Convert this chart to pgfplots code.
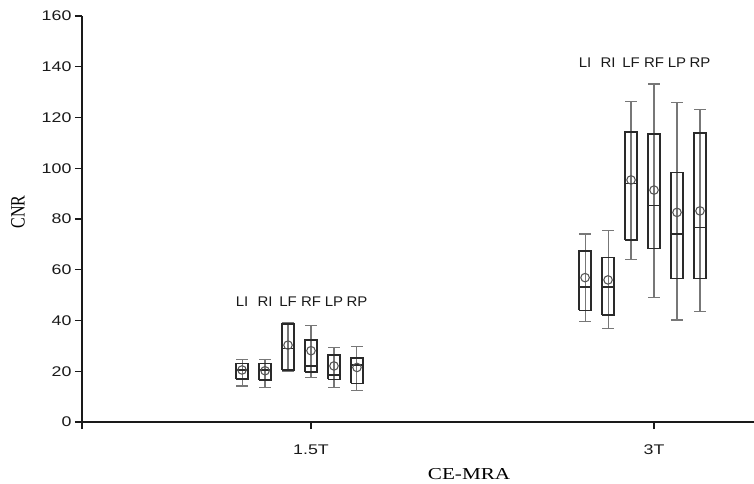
\documentclass[border=0pt]{standalone}
\usepackage{fontspec}
\setmainfont{Liberation Sans}[FakeStretch=1.27]
\newfontfamily\lblfont{Liberation Sans}[FakeStretch=1.07]
\newfontfamily\seriffont{Liberation Serif}
\usepackage{graphicx}
\usepackage{pgfplots}
\pgfplotsset{compat=1.18}
\definecolor{boxc}{HTML}{2A2A2A}
\definecolor{whc}{HTML}{777777}
\definecolor{mnc}{HTML}{555555}
\definecolor{axc}{HTML}{1A1A1A}
\pgfplotsset{
  wh/.style={draw=whc, line width=0.8pt, mark=none},
  bx/.style={draw=boxc, line width=1.2pt, mark=none},
}
\tikzset{lbl/.style={font=\lblfont\fontsize{10.5pt}{12pt}\selectfont, text=axc, inner sep=0pt}}
\begin{document}
\begin{tikzpicture}
\useasboundingbox (-61.5pt,-45.75pt) rectangle (504pt,316.5pt);
\begin{axis}[
  at={(0pt,0pt)}, anchor=south west,
  scale only axis, width=504pt, height=304.5pt,
  xmin=0.3324, xmax=2.2915, ymin=0, ymax=160,
  axis x line*=bottom, axis y line*=left,
  axis line style={draw=axc, line width=1.2pt},
  major tick style={draw=axc, line width=1.1pt},
  tick align=outside, major tick length=5.25pt,
  ytick={0,20,...,160},
  xtick={0.3324,1,2}, xticklabels={,1.5T,3T},
  tick label style={font=\fontsize{10.5pt}{12pt}\selectfont, text=axc},
  /pgf/number format/assume math mode=true,
  yticklabel style={anchor=east, inner sep=0pt, xshift=-2.5pt},
  xticklabel style={anchor=north, inner sep=0pt, yshift=-11.5pt},
  xlabel={\scalebox{1.27}[1]{CE-MRA}},
  xlabel style={at={(axis description cs:0.576,0)}, anchor=north, inner sep=0pt, yshift=-35pt, font=\seriffont\fontsize{12.5pt}{14pt}\selectfont},
  ylabel={\scalebox{1}[1.27]{CNR}},
  ylabel style={at={(axis description cs:-0.0952,0.517)}, anchor=center, inner sep=0pt, font=\seriffont\fontsize{12pt}{14pt}\selectfont},
  clip=false,
]
% ---- 1.5T ----
% LI
\addplot[wh] coordinates {(0.799,14.2) (0.799,24.8)};
\addplot[wh] coordinates {(0.782,14.2) (0.816,14.2)};
\addplot[wh] coordinates {(0.782,24.8) (0.816,24.8)};
\addplot[bx] coordinates {(0.781,16.9) (0.817,16.9) (0.817,23.1) (0.781,23.1) (0.781,16.9)};
\addplot[bx] coordinates {(0.781,20.5) (0.817,20.5)};
% RI
\addplot[wh] coordinates {(0.866,13.7) (0.866,24.8)};
\addplot[wh] coordinates {(0.849,13.7) (0.883,13.7)};
\addplot[wh] coordinates {(0.849,24.8) (0.883,24.8)};
\addplot[bx] coordinates {(0.848,16.5) (0.884,16.5) (0.884,23.1) (0.848,23.1) (0.848,16.5)};
\addplot[bx] coordinates {(0.848,20.5) (0.884,20.5)};
% LF
\addplot[wh] coordinates {(0.933,20.0) (0.933,39.3)};
\addplot[wh] coordinates {(0.916,20.0) (0.950,20.0)};
\addplot[wh] coordinates {(0.916,39.3) (0.950,39.3)};
\addplot[bx] coordinates {(0.915,20.5) (0.951,20.5) (0.951,38.6) (0.915,38.6) (0.915,20.5)};
\addplot[bx] coordinates {(0.915,29.0) (0.951,29.0)};
% RF
\addplot[wh] coordinates {(1.000,17.6) (1.000,38.2)};
\addplot[wh] coordinates {(0.983,17.6) (1.017,17.6)};
\addplot[wh] coordinates {(0.983,38.2) (1.017,38.2)};
\addplot[bx] coordinates {(0.982,19.6) (1.018,19.6) (1.018,32.3) (0.982,32.3) (0.982,19.6)};
\addplot[bx] coordinates {(0.982,22.1) (1.018,22.1)};
% LP
\addplot[wh] coordinates {(1.067,13.7) (1.067,29.4)};
\addplot[wh] coordinates {(1.050,13.7) (1.084,13.7)};
\addplot[wh] coordinates {(1.050,29.4) (1.084,29.4)};
\addplot[bx] coordinates {(1.049,16.8) (1.085,16.8) (1.085,26.4) (1.049,26.4) (1.049,16.8)};
\addplot[bx] coordinates {(1.049,18.5) (1.085,18.5)};
% RP
\addplot[wh] coordinates {(1.134,12.3) (1.134,29.7)};
\addplot[wh] coordinates {(1.117,12.3) (1.151,12.3)};
\addplot[wh] coordinates {(1.117,29.7) (1.151,29.7)};
\addplot[bx] coordinates {(1.116,15.2) (1.152,15.2) (1.152,25.3) (1.116,25.3) (1.116,15.2)};
\addplot[bx] coordinates {(1.116,22.5) (1.152,22.5)};
% ---- 3T ----
% LI
\addplot[wh] coordinates {(1.799,39.5) (1.799,74.1)};
\addplot[wh] coordinates {(1.782,39.5) (1.816,39.5)};
\addplot[wh] coordinates {(1.782,74.1) (1.816,74.1)};
\addplot[bx] coordinates {(1.781,44.0) (1.817,44.0) (1.817,67.5) (1.781,67.5) (1.781,44.0)};
\addplot[bx] coordinates {(1.781,53.1) (1.817,53.1)};
% RI
\addplot[wh] coordinates {(1.866,36.8) (1.866,75.3)};
\addplot[wh] coordinates {(1.849,36.8) (1.883,36.8)};
\addplot[wh] coordinates {(1.849,75.3) (1.883,75.3)};
\addplot[bx] coordinates {(1.848,42.2) (1.884,42.2) (1.884,64.8) (1.848,64.8) (1.848,42.2)};
\addplot[bx] coordinates {(1.848,53.3) (1.884,53.3)};
% LF
\addplot[wh] coordinates {(1.933,64.2) (1.933,126.2)};
\addplot[wh] coordinates {(1.916,64.2) (1.950,64.2)};
\addplot[wh] coordinates {(1.916,126.2) (1.950,126.2)};
\addplot[bx] coordinates {(1.915,71.7) (1.951,71.7) (1.951,114.3) (1.915,114.3) (1.915,71.7)};
\addplot[bx] coordinates {(1.915,94.0) (1.951,94.0)};
% RF
\addplot[wh] coordinates {(2.000,49.0) (2.000,133.2)};
\addplot[wh] coordinates {(1.983,49.0) (2.017,49.0)};
\addplot[wh] coordinates {(1.983,133.2) (2.017,133.2)};
\addplot[bx] coordinates {(1.982,68.3) (2.018,68.3) (2.018,113.4) (1.982,113.4) (1.982,68.3)};
\addplot[bx] coordinates {(1.982,85.3) (2.018,85.3)};
% LP
\addplot[wh] coordinates {(2.067,40.2) (2.067,125.8)};
\addplot[wh] coordinates {(2.050,40.2) (2.084,40.2)};
\addplot[wh] coordinates {(2.050,125.8) (2.084,125.8)};
\addplot[bx] coordinates {(2.049,56.5) (2.085,56.5) (2.085,98.4) (2.049,98.4) (2.049,56.5)};
\addplot[bx] coordinates {(2.049,74.0) (2.085,74.0)};
% RP
\addplot[wh] coordinates {(2.134,43.7) (2.134,123.0)};
\addplot[wh] coordinates {(2.117,43.7) (2.151,43.7)};
\addplot[wh] coordinates {(2.117,123.0) (2.151,123.0)};
\addplot[bx] coordinates {(2.116,56.5) (2.152,56.5) (2.152,114.0) (2.116,114.0) (2.116,56.5)};
\addplot[bx] coordinates {(2.116,76.7) (2.152,76.7)};
% means
\addplot[only marks, mark=o, mark size=3.2pt, mark options={draw=mnc, line width=0.8pt}] coordinates {
 (0.799,20.5) (0.866,20.2) (0.933,30.3) (1.000,28.1) (1.067,22.1) (1.134,21.5)
 (1.799,56.9) (1.866,56.0) (1.933,95.4) (2.000,91.4) (2.067,82.6) (2.134,83.2)
};
% group labels
\node[lbl] at (axis cs:0.799,47.3) {LI};
\node[lbl] at (axis cs:0.866,47.3) {RI};
\node[lbl] at (axis cs:0.933,47.3) {LF};
\node[lbl] at (axis cs:1.000,47.3) {RF};
\node[lbl] at (axis cs:1.067,47.3) {LP};
\node[lbl] at (axis cs:1.134,47.3) {RP};
\node[lbl] at (axis cs:1.799,141.5) {LI};
\node[lbl] at (axis cs:1.866,141.5) {RI};
\node[lbl] at (axis cs:1.933,141.5) {LF};
\node[lbl] at (axis cs:2.000,141.5) {RF};
\node[lbl] at (axis cs:2.067,141.5) {LP};
\node[lbl] at (axis cs:2.134,141.5) {RP};
\end{axis}
\end{tikzpicture}
\end{document}
